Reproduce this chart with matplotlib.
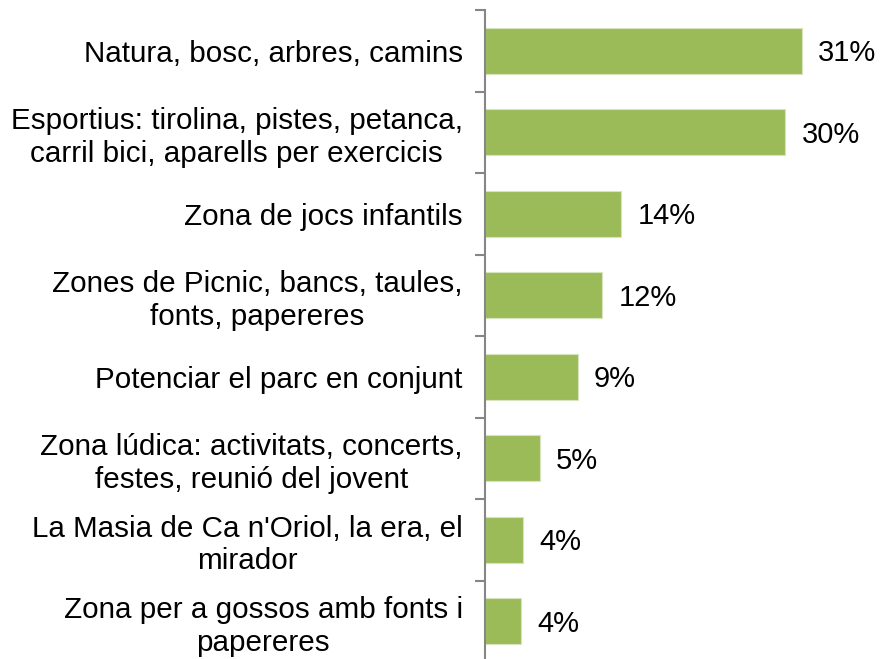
import matplotlib.pyplot as plt

plt.rcParams['font.family'] = ['Liberation Sans', 'DejaVu Sans']

categories = ['Natura, bosc, arbres, camins',
              'Esportius: tirolina, pistes, petanca,\ncarril bici, aparells per exercicis',
              'Zona de jocs infantils',
              'Zones de Picnic, bancs, taules,\nfonts, papereres',
              'Potenciar el parc en conjunt',
              'Zona lúdica: activitats, concerts,\nfestes, reunió del jovent',
              "La Masia de Ca n'Oriol, la era, el\nmirador",
              'Zona per a gossos amb fonts i\npapereres']
values = [31.1, 29.5, 13.4, 11.5, 9.1, 5.4, 3.7, 3.5]
value_labels = ['31%', '30%', '14%', '12%', '9%', '5%', '4%', '4%']

fig = plt.figure(figsize=(8.84, 6.59), dpi=100)
ax = fig.add_axes([485 / 884, -3 / 659, 1 - 485 / 884, 652 / 659])

y = list(range(len(categories)))
ax.barh(y, values, height=0.56, color='#9BBB59', edgecolor='#D7E4BD', linewidth=0.8)

for yi, v, lab in zip(y, values, value_labels):
    ax.text(v + 1.6, yi + 0.03, lab, va='center', ha='left', fontsize=21)

ax.set_ylim(len(categories) - 0.5, -0.5)
ax.set_xlim(0, 39.2)

ax.set_yticks([i - 0.5 for i in range(len(categories) + 1)])
ax.set_yticklabels([])
ax.set_yticks(y, minor=True)
ax.set_yticklabels(categories, minor=True, fontsize=21.3, ha='right',
                   multialignment='center', linespacing=1.2)
ax.tick_params(axis='y', which='minor', length=0, pad=16)
ax.tick_params(axis='y', which='major', length=7, width=1.5, color='#868686')
ax.set_xticks([])

for s in ['top', 'right', 'bottom']:
    ax.spines[s].set_visible(False)
ax.spines['left'].set_color('#868686')
ax.spines['left'].set_linewidth(1.5)

fig.savefig('out.png', dpi=100)
